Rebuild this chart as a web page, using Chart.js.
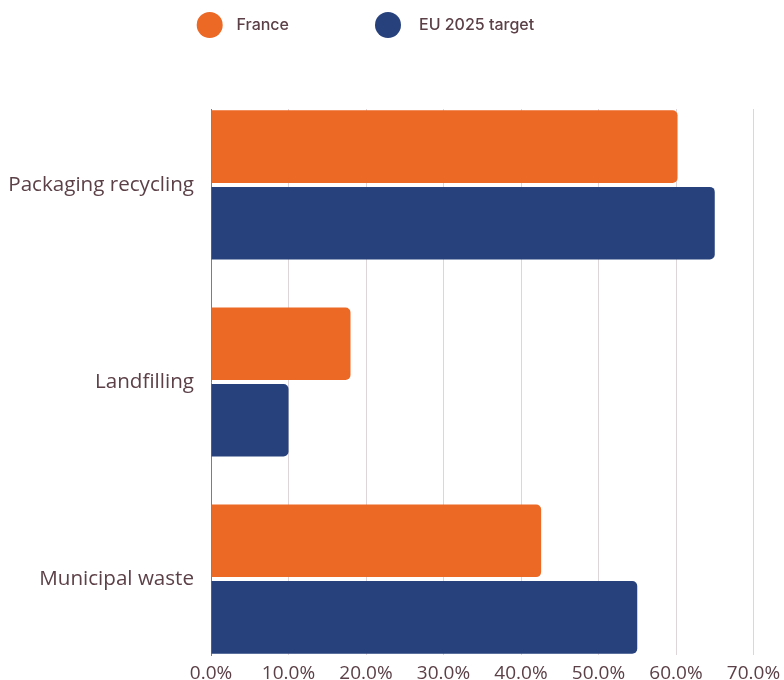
<!DOCTYPE html>
<html>
<head>
<meta charset="utf-8">
<script src="https://cdn.jsdelivr.net/npm/chart.js@4.4.1/dist/chart.umd.min.js"></script>
<style>
  html, body { margin: 0; padding: 0; background: #ffffff; }
  #wrap { width: 784px; height: 680px; position: relative; }
</style>
</head>
<body>
<div id="wrap"><canvas id="chart" width="784" height="680"></canvas></div>
<script>
// Waste indicators: France vs. EU 2025 targets (percent)
const categories = ['Packaging recycling', 'Landfilling', 'Municipal waste'];
const seriesNames = ['France', 'EU 2025 target'];
const franceValues = [60.2, 18.0, 42.6];
const euTargetValues = [65.0, 10.0, 55.0];
const xTickValues = [0, 10, 20, 30, 40, 50, 60, 70];

const ORANGE = '#EC6825';
const NAVY = '#27417D';
const TEXT = '#5c4048';

// one point per category; the category index is placed on a numeric axis
const toPoints = (vals) => vals.map((v, i) => ({ x: v, y: i }));

// Legend drawn as round swatches with labels above the plot
const dotLegend = {
  id: 'dotLegend',
  afterDraw(chart) {
    const ctx = chart.ctx;
    const items = [
      { cx: 209.7, tx: 236.5 },
      { cx: 388, tx: 419 }
    ];
    ctx.save();
    ctx.font = '500 16px Inter, "Open Sans", sans-serif';
    ctx.textBaseline = 'middle';
    ctx.textAlign = 'left';
    chart.data.datasets.forEach((ds, i) => {
      const it = items[i];
      ctx.fillStyle = ds.backgroundColor;
      ctx.beginPath();
      ctx.arc(it.cx, 25, 13, 0, Math.PI * 2);
      ctx.fill();
      ctx.fillStyle = TEXT;
      ctx.fillText(ds.label, it.tx, 25);
    });
    ctx.restore();
  }
};

new Chart(document.getElementById('chart'), {
  type: 'bar',
  data: {
    datasets: [
      { label: seriesNames[0], data: toPoints(franceValues), backgroundColor: ORANGE },
      { label: seriesNames[1], data: toPoints(euTargetValues), backgroundColor: NAVY }
    ]
  },
  options: {
    indexAxis: 'y',
    responsive: false,
    animation: false,
    categoryPercentage: 0.777,
    barPercentage: 0.948,
    borderRadius: 5,
    layout: { padding: { top: 109, right: 30.5, bottom: 0, left: 0 } },
    plugins: {
      legend: { display: false },
      tooltip: { enabled: false }
    },
    scales: {
      x: {
        type: 'linear',
        min: 0,
        max: 70,
        afterBuildTicks: (scale) => { scale.ticks = xTickValues.map(v => ({ value: v })); },
        afterFit: (scale) => {
          scale.height = 25;
          scale.paddingLeft = 0;
          scale.paddingRight = 0;
        },
        grid: { color: '#ddd5d8', lineWidth: 1, drawTicks: false },
        border: { display: false },
        ticks: {
          padding: 7,
          color: TEXT,
          font: { family: '"Open Sans", sans-serif', size: 19 },
          callback: (v) => Number(v).toFixed(1) + '%'
        }
      },
      y: {
        type: 'linear',
        reverse: true,
        offset: false,
        min: -0.385,
        max: 2.385,
        afterBuildTicks: (scale) => { scale.ticks = categories.map((c, i) => ({ value: i })); },
        afterFit: (scale) => {
          scale.width = 211;
          scale.paddingTop = 0;
          scale.paddingBottom = 0;
        },
        grid: { display: false, drawTicks: false, offset: false },
        border: { display: true, color: '#85797e', width: 1 },
        ticks: {
          padding: 17,
          color: TEXT,
          font: { family: '"Open Sans", sans-serif', size: 20.6 },
          callback: (v) => categories[v]
        }
      }
    }
  },
  plugins: [dotLegend]
});
</script>
</body>
</html>
